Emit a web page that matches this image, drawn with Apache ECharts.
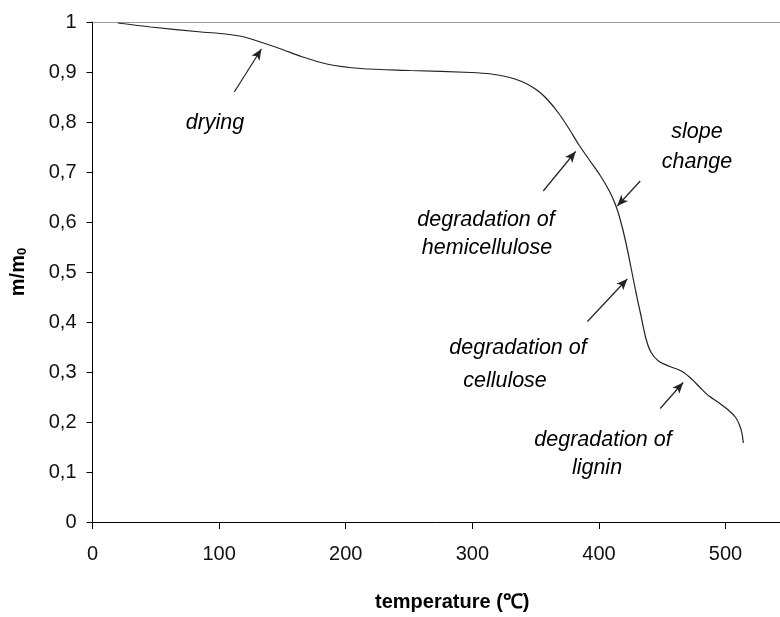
<!DOCTYPE html>
<html>
<head>
<meta charset="utf-8">
<script src="https://cdn.jsdelivr.net/npm/echarts@6/dist/echarts.min.js"></script>
<style>
  html, body { margin: 0; padding: 0; background: #fff; }
  #chart { width: 780px; height: 617px; }
</style>
</head>
<body>
<div id="chart"></div>
<script>
// temperature (°C) and mass ratio
var temps = [20, 46, 86, 105, 120, 135, 150, 165, 185, 212, 251, 299, 315, 328, 338, 346, 353, 360, 368, 376, 384, 393, 401, 408, 413, 417, 421, 425, 429, 433, 437, 441, 447, 456, 465, 471, 476, 481, 487, 495, 503, 508, 511, 513, 514];
var massRatio = [0.998, 0.99, 0.98, 0.976, 0.97, 0.958, 0.945, 0.931, 0.916, 0.907, 0.903, 0.899, 0.896, 0.89, 0.882, 0.872, 0.86, 0.843, 0.818, 0.788, 0.755, 0.722, 0.693, 0.663, 0.635, 0.603, 0.562, 0.513, 0.462, 0.415, 0.368, 0.34, 0.322, 0.311, 0.302, 0.291, 0.279, 0.266, 0.252, 0.238, 0.222, 0.209, 0.194, 0.177, 0.158];

var xTicks = [0, 100, 200, 300, 400, 500];

// annotation arrows: [tailX, tailY, tipX, tipY] in data units
var arrows = [
  [112, 0.86, 133.4, 0.946],
  [356, 0.662, 381.6, 0.741],
  [432.6, 0.682, 414.5, 0.632],
  [390.9, 0.401, 422.4, 0.486],
  [448.4, 0.227, 466.5, 0.279]
];

var font = "'Liberation Sans', Arial, sans-serif";

var chart = echarts.init(document.getElementById('chart'));

var seriesData = temps.map(function (t, i) { return [t, massRatio[i]]; });

// annotation labels (pixel positions)
var notes = [
  { text: 'drying', x: 215, y: 123 },
  { text: 'slope', x: 697, y: 132 },
  { text: 'change', x: 697, y: 162 },
  { text: 'degradation of', x: 486, y: 220 },
  { text: 'hemicellulose', x: 487, y: 248 },
  { text: 'degradation of', x: 518, y: 348 },
  { text: 'cellulose', x: 505, y: 381 },
  { text: 'degradation of', x: 603, y: 440 },
  { text: 'lignin', x: 597, y: 468 }
];

var option = {
  animation: false,
  grid: { left: 91, top: 22, right: 0, bottom: 90 },
  xAxis: [
    {
      type: 'value',
      min: 0,
      max: 543,
      interval: 100,
      name: 'temperature (\u2103)',
      nameLocation: 'middle',
      nameGap: 70,
      nameTextStyle: {
        fontFamily: font, fontSize: 20, fontWeight: 'bold', color: '#000',
        padding: [0, 0, 0, 32]
      },
      axisLine: { lineStyle: { color: '#000', width: 1 } },
      axisTick: { length: 7, customValues: xTicks, lineStyle: { color: '#000' } },
      axisLabel: {
        fontFamily: font, fontSize: 20, color: '#111', margin: 22,
        customValues: xTicks
      },
      splitLine: { show: false }
    },
    {
      type: 'value',
      position: 'top',
      min: 0,
      max: 543,
      axisLine: { show: true, lineStyle: { color: '#999', width: 1 } },
      axisTick: { show: false },
      axisLabel: { show: false },
      splitLine: { show: false }
    }
  ],
  yAxis: {
    type: 'value',
    min: 0,
    max: 1,
    interval: 0.1,
    name: 'm/m{sub|0}',
    nameLocation: 'middle',
    nameGap: 64,
    nameRotate: 90,
    nameTextStyle: {
      fontFamily: font, fontSize: 20, fontWeight: 'bold', color: '#000',
      rich: {
        sub: { fontFamily: font, fontSize: 13, fontWeight: 'bold', color: '#000', verticalAlign: 'bottom', padding: [8, 0, 0, 0] }
      }
    },
    axisLine: { show: true, lineStyle: { color: '#000', width: 1 } },
    axisTick: { show: true, length: 6, lineStyle: { color: '#000' } },
    axisLabel: {
      fontFamily: font, fontSize: 20, color: '#111', margin: 16,
      formatter: function (v) {
        var s = (Math.round(v * 10) / 10).toString();
        return s.replace('.', ',');
      }
    },
    splitLine: { show: false }
  },
  series: [
    {
      type: 'line',
      data: seriesData,
      showSymbol: false,
      smooth: 0.3,
      lineStyle: { color: '#222', width: 1.2 },
      markLine: {
        silent: true,
        symbol: ['none', 'arrow'],
        symbolSize: [7, 11],
        label: { show: false },
        lineStyle: { color: '#222', width: 1.2, type: 'solid' },
        data: arrows.map(function (a) {
          return [{ coord: [a[0], a[1]] }, { coord: [a[2], a[3]] }];
        })
      }
    }
  ],
  graphic: notes.map(function (n) {
    return {
      type: 'text',
      x: n.x,
      y: n.y,
      style: {
        text: n.text,
        fontFamily: font,
        fontSize: 21.5,
        fontStyle: 'italic',
        fill: '#000',
        align: 'center',
        verticalAlign: 'middle'
      }
    };
  })
};

chart.setOption(option);
</script>
</body>
</html>
